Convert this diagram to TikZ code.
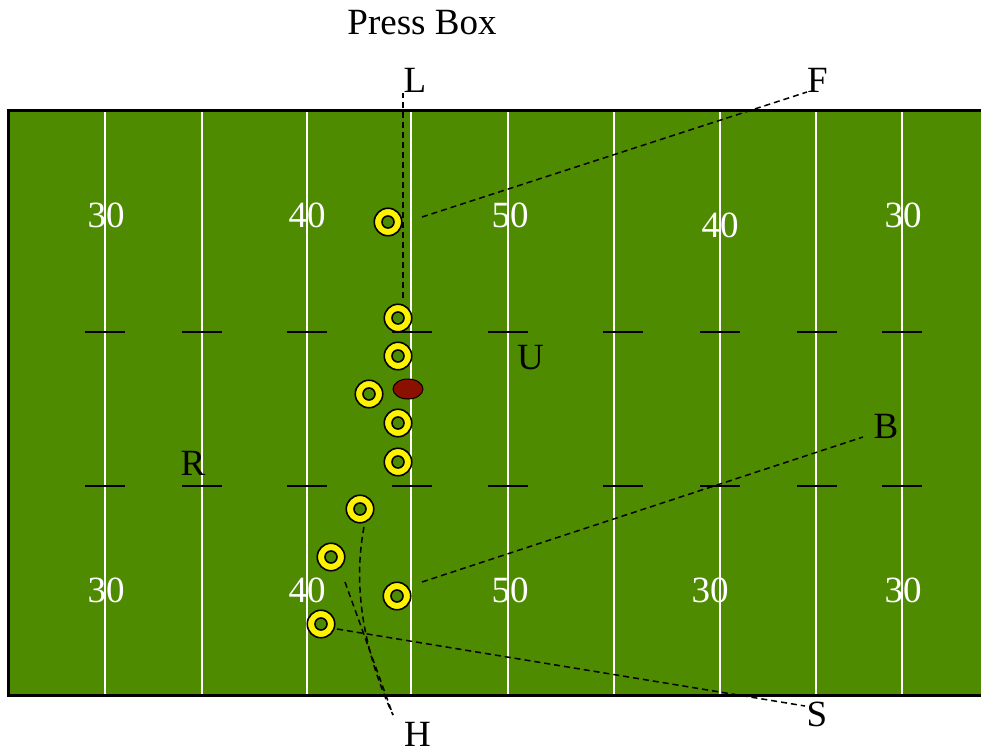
\documentclass[tikz,border=0pt]{standalone}
\usepackage{fontspec}
\setmainfont{Liberation Serif}
\usetikzlibrary{shapes.geometric}
\definecolor{fieldgreen}{RGB}{79,139,0}
\definecolor{balred}{RGB}{140,16,0}
\begin{document}
\begin{tikzpicture}[x=1pt,y=-1pt,
  lbl/.style={inner sep=0pt,anchor=center,font=\fontsize{37}{40}\selectfont},
  num/.style={lbl,text=white},
  yardline/.style={white,line width=1.5pt},
  hashmark/.style={black,line width=2pt},
  route/.style={black,line width=1.5pt,dash pattern=on 6pt off 4pt},
  player/.style={circle,inner sep=0pt,minimum size=27.5pt,draw=black,line width=1.6pt,fill=yellow,
    path picture={\fill[fieldgreen] (path picture bounding box.center) circle (6pt);
                  \draw[black,line width=1.6pt] (path picture bounding box.center) circle (6pt);}},
  ball/.style={ellipse,inner sep=0pt,minimum width=30pt,minimum height=20pt,draw=black,line width=1pt,fill=balred}]
\useasboundingbox (0,0) rectangle (981,752);
% field
\fill[fieldgreen] (8.5,110.5) rectangle (981,695);
\draw[black,line width=3pt] (981,110.5) -| (8.5,695) -- (981,695);
% yard lines
\foreach \x in {105,202,307,411,508,614,720,816,902}
  \draw[yardline] (\x,112) -- (\x,693.5);
% hash marks
\foreach \x in {105,202,307,412,508,623,720,817,902} {
  \draw[hashmark] (\x-20,332) -- (\x+20,332);
  \draw[hashmark] (\x-20,486) -- (\x+20,486);
}
% numbers
\node[num] (n1) at (106,215) {30};
\node[num] (n2) at (307,215) {40};
\node[num] (n3) at (510,215) {50};
\node[num] (n4) at (720,225) {40};
\node[num] (n5) at (903,215) {30};
\node[num] (n6) at (106,590) {30};
\node[num] (n7) at (307,590) {40};
\node[num] (n8) at (510,590) {50};
\node[num] (n9) at (710,590) {30};
\node[num] (n10) at (903,590) {30};
% labels
\node[lbl] (press) at (422,22.5) {Press Box};
\node[lbl] (L) at (415,80.5) {L};
\node[lbl] (F) at (817.5,80.5) {F};
\node[lbl] (U) at (530.5,357.5) {U};
\node[lbl] (B) at (886,426.5) {B};
\node[lbl] (R) at (193,463) {R};
\node[lbl] (H) at (417.5,734) {H};
\node[lbl] (S) at (817,714.5) {S};
% route end points
\coordinate (lS) at (403,298);
\coordinate (lE) at (403,93);
\coordinate (fS) at (422,217);
\coordinate (fE) at (807,92);
\coordinate (bS) at (422,582);
\coordinate (bE) at (863,437);
\coordinate (sS) at (337,629);
\coordinate (sE) at (805,706);
\coordinate (hS1) at (364,527);
\coordinate (hS2) at (345,582);
\coordinate (hE) at (393,715);
% routes
\draw[route] (lS) -- (lE);
\draw[route] (fS) -- (fE);
\draw[route] (bS) -- (bE);
\draw[route] (sS) -- (sE);
\draw[route] (hS2) -- (hE);
\draw[route] (hS1) .. controls (350,600) and (372,670) .. (hE);
% players
\node[player] (p1) at (388,222) {};
\node[player] (p2) at (398,318) {};
\node[player] (p3) at (398,356) {};
\node[player] (p4) at (369,394) {};
\node[player] (p5) at (398,423) {};
\node[player] (p6) at (398,462) {};
\node[player] (p7) at (360,509) {};
\node[player] (p8) at (331,557) {};
\node[player] (p9) at (397,596) {};
\node[player] (p10) at (321,624) {};
% ball
\node[ball] (ball) at (408,389) {};
\end{tikzpicture}
\end{document}
